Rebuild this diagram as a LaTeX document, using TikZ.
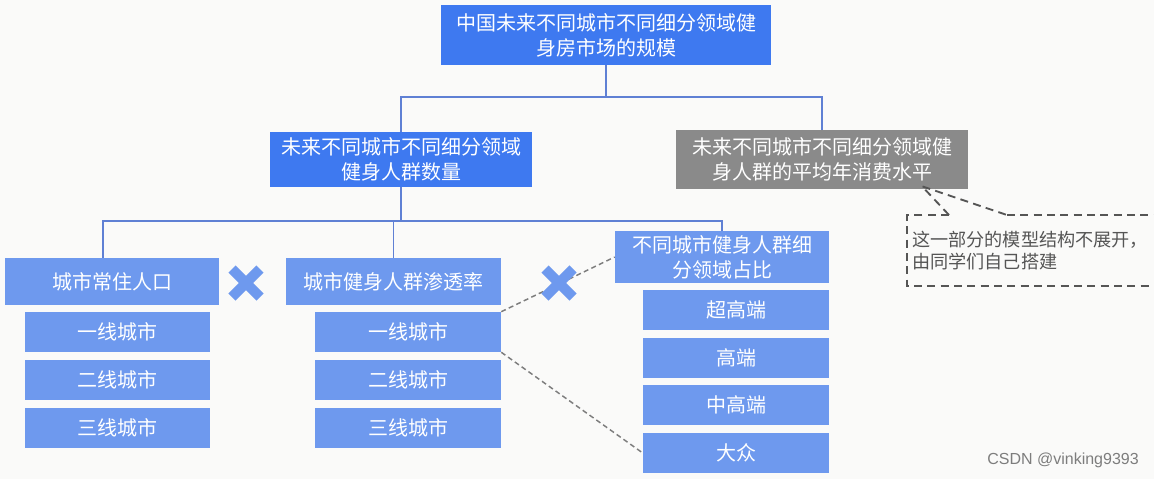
\documentclass[tikz,border=0pt]{standalone}
\usepackage{fontspec}
\setmainfont{Noto Sans CJK SC}
\newfontfamily\markfont{Liberation Sans}
\usetikzlibrary{calc}
\definecolor{bgwhite}{RGB}{250,250,249}
\definecolor{topblue}{RGB}{62,121,240}
\definecolor{lightblue}{RGB}{110,153,238}
\definecolor{boxgrey}{RGB}{138,138,138}
\definecolor{linkblue}{RGB}{95,128,212}
\definecolor{dashgrey}{RGB}{125,125,125}
\definecolor{notegrey}{RGB}{85,85,85}
\def\bigcross(#1,#2){\draw[crossline] (#1-14,#2-14) -- (#1+14,#2+14); \draw[crossline] (#1-14,#2+14) -- (#1+14,#2-14);}

\begin{document}
\begin{tikzpicture}[x=0.75pt,y=-0.75pt,
	box/.style={inner sep=0pt,align=center,text=white,font=\fontsize{15}{18.75}\selectfont},
	darkbox/.style={box,fill=topblue},
	lightbox/.style={box,fill=lightblue},
	greybox/.style={box,fill=boxgrey},
	link/.style={draw=linkblue,line width=1.2pt},
	dashline/.style={draw=dashgrey,line width=1.1pt,dash pattern=on 3.75pt off 2.5pt},
	notedash/.style={draw=notegrey,line width=1.4pt,dash pattern=on 6pt off 4pt},
	crossline/.style={draw=lightblue,line width=7.5pt}]
		%%%%% START %%%%%
		\fill[bgwhite] (0,0) rectangle (1154,479);
		\useasboundingbox (0,0) rectangle (1154,479);
		
		% top levels
		\node[darkbox,minimum width=247.5pt,minimum height=45pt] (top) at (606,35) {中国未来不同城市不同细分领域健\\身房市场的规模};
		\node[darkbox,minimum width=196.5pt,minimum height=41.25pt] (crowd) at (401,159.5) {未来不同城市不同细分领域\\健身人群数量};
		\node[greybox,minimum width=219pt,minimum height=44.25pt] (spend) at (822,159.5) {未来不同城市不同细分领域健\\身人群的平均年消费水平};
		
		\draw[link] (top.south) -- ++(0,32) -| (crowd.north);
		\draw[link] (top.south) -- ++(0,32) -| (spend.north);
		
		% population
		\node[lightbox,minimum width=160.5pt,minimum height=35.25pt] (pop) at (112,281.5) {城市常住人口};
		\node[lightbox,minimum width=138.75pt,minimum height=30pt] (pop1) at (117.5,332) {一线城市};
		\node[lightbox,minimum width=138.75pt,minimum height=30pt] (pop2) at (117.5,380) {二线城市};
		\node[lightbox,minimum width=138.75pt,minimum height=30pt] (pop3) at (117.5,427.5) {三线城市};
		
		% penetration
		\node[lightbox,minimum width=161.25pt,minimum height=35.25pt] (pen) at (393.5,281.5) {城市健身人群渗透率};
		\node[lightbox,minimum width=139.5pt,minimum height=30pt] (pen1) at (408,332) {一线城市};
		\node[lightbox,minimum width=139.5pt,minimum height=30pt] (pen2) at (408,380) {二线城市};
		\node[lightbox,minimum width=139.5pt,minimum height=30pt] (pen3) at (408,427.5) {三线城市};
		
		% segments
		\node[lightbox,minimum width=160.5pt,minimum height=39pt] (seg) at (722,257) {不同城市健身人群细\\分领域占比};
		\node[lightbox,minimum width=139.5pt,minimum height=30pt] (seg1) at (736,310) {超高端};
		\node[lightbox,minimum width=139.5pt,minimum height=30pt] (seg2) at (736,357.5) {高端};
		\node[lightbox,minimum width=139.5pt,minimum height=30pt] (seg3) at (736,405) {中高端};
		\node[lightbox,minimum width=139.5pt,minimum height=30pt] (seg4) at (736,453) {大众};
		
		\draw[link] (crowd.south) -- ++(0,34) -| ($(pop.north)+(-9,0)$);
		\draw[link] (crowd.south) -- ++(0,34) -| (pen.north);
		\draw[link] (crowd.south) -- ++(0,34) -| (seg.north);
		
		\draw[dashline] (pen1.north east) -- (seg.west);
		\draw[dashline] (pen1.south east) -- (seg4.west);
		
		\bigcross(246,283)
		\bigcross(559,283)
		
		% note
		\coordinate (tip) at ($(spend.south)+(100,-3)$);
		\draw[notedash] (949,215) -- (tip) -- (1007,215);
		\draw[notedash] (949,215) -- (907,215) -- (907,286) -- (1170,286);
		\draw[notedash] (1007,215) -- (1170,215);
		\node[anchor=west,align=left,inner sep=0pt,text=notegrey,font=\fontsize{13.6}{16.5}\selectfont] (note) at (912,251) {这一部分的模型结构不展开，\\由同学们自己搭建};
		
		\node[anchor=east,inner sep=0pt,text=dashgrey,font=\markfont\fontsize{12}{14}\selectfont] (mark) at (1139,460) {CSDN @vinking9393};
		%%%%% END %%%%%
\end{tikzpicture}
\end{document}
